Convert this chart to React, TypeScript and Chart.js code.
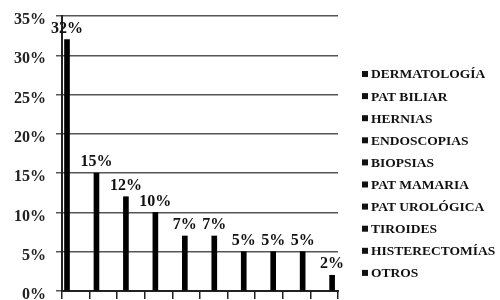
import React, { useEffect, useRef } from "react";
import { Chart, registerables } from "chart.js";

Chart.register(...registerables);

const categories = [
  "DERMATOLOGÍA",
  "PAT BILIAR",
  "HERNIAS",
  "ENDOSCOPIAS",
  "BIOPSIAS",
  "PAT MAMARIA",
  "PAT UROLÓGICA",
  "TIROIDES",
  "HISTERECTOMÍAS",
  "OTROS",
];
const values = [32, 15, 12, 10, 7, 7, 5, 5, 5, 2];
const yTicks = [0, 5, 10, 15, 20, 25, 30, 35];

const FONT = "'Liberation Serif', 'Times New Roman', serif";

const labelPlugin = {
  id: "barLabels",
  afterDatasetsDraw(chart: any) {
    const ctx = chart.ctx;
    const meta = chart.getDatasetMeta(0);
    ctx.save();
    ctx.font = `bold 16px ${FONT}`;
    ctx.fillStyle = "#111";
    ctx.textAlign = "center";
    ctx.textBaseline = "bottom";
    meta.data.forEach((el: any, i: number) => {
      ctx.fillText(`${values[i]}%`, el.x, el.y - 3);
    });
    ctx.restore();
  },
};

const legendPlugin = {
  id: "sideLegend",
  afterDraw(chart: any) {
    const ctx = chart.ctx;
    const x0 = chart.chartArea.right + 24;
    const y0 = 74;
    const step = 22.1;
    ctx.save();
    ctx.font = `bold 13.5px ${FONT}`;
    ctx.fillStyle = "#111";
    ctx.textAlign = "left";
    ctx.textBaseline = "middle";
    categories.forEach((c, i) => {
      const y = y0 + i * step;
      ctx.fillRect(x0, y - 3, 6, 6);
      ctx.fillText(c, x0 + 9, y + 1);
    });
    ctx.restore();
  },
};

export default function App() {
  const ref = useRef<HTMLCanvasElement>(null);
  useEffect(() => {
    if (!ref.current) return;
    const chart = new Chart(ref.current, {
      type: "bar",
      data: {
        labels: categories,
        datasets: [
          {
            data: values.map((v, i) => ({ x: i, y: v })),
            backgroundColor: "#000",
            borderWidth: 0,
            barThickness: 5,
            xAxisID: "x",
            yAxisID: "y",
          },
        ],
      },
      options: {
        responsive: false,
        animation: false,
        events: [],
        layout: { padding: { left: 0, right: 162, top: 16, bottom: 0 } },
        plugins: { legend: { display: false }, tooltip: { enabled: false } },
        scales: {
          x: {
            type: "linear",
            position: "bottom",
            offset: false,
            min: -0.17,
            max: 9.2,
            ticks: { display: false },
            grid: { display: false, offset: false },
            border: { display: true, color: "#222", width: 2 },
            afterFit: (s: any) => {
              s.height = 0;
              s.paddingLeft = 0;
              s.paddingRight = 0;
            },
          },
          x2: {
            type: "category",
            position: "bottom",
            offset: true,
            ticks: { display: false },
            grid: {
              display: true,
              offset: true,
              drawOnChartArea: false,
              drawTicks: true,
              tickLength: 8,
              color: "#222",
              lineWidth: 1.5,
            },
            border: { display: false },
            afterFit: (s: any) => {
              s.height = 9;
              s.paddingLeft = 0;
              s.paddingRight = 0;
            },
          },
          y: {
            min: 0,
            max: 35,
            afterBuildTicks: (s: any) => {
              s.ticks = yTicks.map((v) => ({ value: v }));
            },
            ticks: {
              padding: 10,
              labelOffset: 4,
              color: "#222",
              font: { family: FONT, size: 16, weight: "bold" },
              callback: (v: any) => `${v}%`,
            },
            grid: { color: "#555", lineWidth: 1.5, tickLength: 6 },
            border: { display: true, color: "#222", width: 2 },
            afterFit: (s: any) => {
              s.width = 62;
              s.paddingTop = 0;
              s.paddingBottom = 0;
            },
          },
        },
      },
      plugins: [labelPlugin, legendPlugin],
    });
    return () => chart.destroy();
  }, []);
  return (
    <div style={{ position: "absolute", left: 0, top: 0, width: 500, height: 300 }}>
      <canvas ref={ref} width={500} height={300} />
    </div>
  );
}
